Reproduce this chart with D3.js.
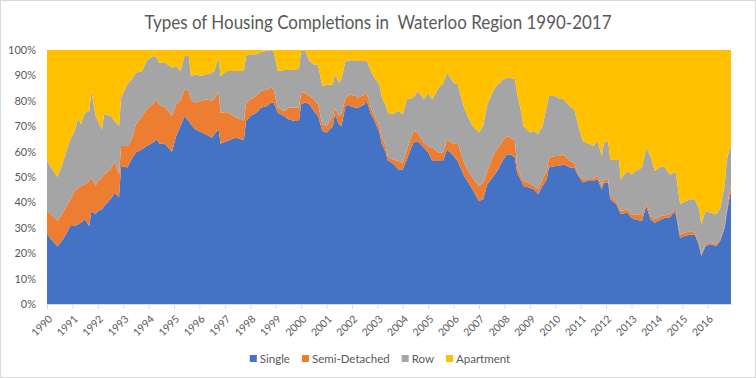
<!DOCTYPE html>
<html>
<head>
<meta charset="utf-8">
<script src="https://cdn.jsdelivr.net/npm/d3@7"></script>
<style>
  body { margin: 0; background: #fff; }
  svg { font-family: Lato, "Open Sans", sans-serif; }
</style>
</head>
<body>
<div id="chart-area"></div>
<script>
/*
*    Types of housing completions, Waterloo Region (100% stacked area)
*/

// month of each reading
var months = ["1990-01","1990-03","1990-06","1990-08","1990-10","1990-12","1991-02","1991-04","1991-05","1991-07",
"1991-09","1991-10","1991-12","1992-01","1992-03","1992-04","1992-07","1992-09","1992-11","1992-12",
"1993-03","1993-05","1993-07","1993-10","1993-12","1994-03","1994-05","1994-06","1994-09","1994-12",
"1995-02","1995-04","1995-06","1995-08","1995-09","1995-11","1996-02","1996-04","1996-07","1996-08",
"1996-10","1996-11","1997-02","1997-04","1997-06","1997-09","1997-10","1997-11","1998-01","1998-04",
"1998-06","1998-09","1998-11","1998-12","1999-02","1999-05","1999-07","1999-10","1999-12","2000-01",
"2000-03","2000-05","2000-07","2000-09","2000-11","2001-01","2001-04","2001-05","2001-07","2001-08",
"2001-10","2001-12","2002-03","2002-04","2002-07","2002-08","2002-10","2002-11","2003-02","2003-03",
"2003-05","2003-06","2003-08","2003-11","2004-01","2004-03","2004-06","2004-08","2004-11","2005-01",
"2005-03","2005-06","2005-08","2005-10","2006-01","2006-03","2006-06","2006-08","2006-10","2007-01",
"2007-03","2007-05","2007-08","2007-10","2007-12","2008-02","2008-04","2008-06","2008-07","2008-09",
"2008-10","2009-01","2009-03","2009-05","2009-07","2009-09","2009-10","2010-01","2010-03","2010-05",
"2010-08","2010-10","2010-12","2011-02","2011-04","2011-07","2011-09","2011-11","2011-12","2012-02",
"2012-03","2012-06","2012-07","2012-08","2012-11","2013-01","2013-03","2013-06","2013-08","2013-10",
"2013-12","2014-03","2014-05","2014-07","2014-09","2014-10","2014-12","2015-02","2015-05","2015-07",
"2015-09","2015-10","2015-12","2016-02","2016-05","2016-07","2016-09","2016-10","2016-11","2016-12"];

// share of completions (%)
var single = [27.8,25.5,22.6,24.8,27.4,30.7,30.7,31.4,32.0,33.3,
30.7,36.6,35.3,36.6,37.3,38.6,41.2,43.8,41.9,54.3,
53.7,57.0,59.6,60.9,62.2,63.5,64.8,63.2,62.9,59.8,
66.1,70.0,74.0,72.0,70.7,68.8,67.5,66.8,65.5,66.8,
68.8,63.1,64.2,64.8,65.5,64.8,64.8,72.0,74.0,75.3,
77.3,78.0,79.3,79.3,75.3,74.0,72.7,72.0,72.0,78.6,
79.3,78.6,76.0,74.0,68.1,67.5,70.0,74.7,70.7,70.0,
78.0,78.0,77.3,77.3,78.6,80.0,74.7,73.4,67.5,63.5,
59.6,56.5,55.6,53.0,53.0,57.0,63.5,64.2,61.5,59.6,
56.3,56.3,56.3,60.9,58.3,56.3,50.4,47.8,45.1,40.6,
41.2,47.1,50.4,53.0,56.0,58.9,58.9,57.6,51.7,48.4,
46.5,45.8,45.1,43.2,46.5,49.1,53.7,54.3,54.3,55.0,
53.7,53.7,50.4,47.8,48.4,48.4,49.1,45.1,47.8,47.8,
41.2,39.2,37.0,35.3,36.0,34.0,33.3,32.7,38.6,33.3,
32.0,33.3,34.0,34.0,36.0,35.3,26.1,26.8,27.4,27.4,
22.8,18.9,22.8,23.5,22.8,25.0,30.0,35.8,40.5,44.5];

var semiDetached = [8.8,9.8,10.1,10.5,10.5,10.5,13.8,14.4,14.5,13.8,
17.7,13.1,11.2,11.8,12.4,12.4,11.8,12.5,9.1,7.9,
8.5,7.8,11.1,13.1,14.4,15.1,15.8,15.2,14.4,14.2,
12.5,10.0,10.5,11.9,9.9,10.5,12.5,13.8,14.5,13.8,
15.1,12.2,11.4,9.9,7.9,7.9,7.2,7.0,6.6,6.6,
6.6,6.5,5.9,5.2,2.0,2.0,4.6,5.3,5.3,4.6,
3.9,3.3,4.6,4.6,2.6,2.5,4.0,2.6,3.3,4.7,
3.2,4.5,4.6,3.9,3.9,3.2,2.6,1.9,2.5,2.6,
2.6,1.7,1.4,3.3,2.6,3.9,4.6,3.3,2.0,2.6,
5.2,3.3,3.3,3.9,4.6,7.2,5.2,4.6,4.6,5.9,
6.6,5.3,8.5,8.5,8.0,7.2,6.6,6.6,2.6,1.3,
1.9,1.7,1.4,1.9,2.6,3.3,3.9,4.0,4.0,3.9,
2.6,1.9,0.6,1.3,0.7,0.9,1.3,1.4,1.3,1.3,
1.3,1.0,1.2,1.3,1.3,1.3,2.0,2.2,1.3,1.3,
1.3,1.3,0.9,1.3,0.6,1.3,1.3,1.3,1.3,0.7,
1.3,0.7,0.7,0.6,0.7,0.7,1.0,1.2,2.0,2.0];

var row = [20.0,18.4,17.3,19.0,21.7,23.6,23.6,27.6,24.2,28.2,
27.6,34.2,27.5,23.6,19.1,23.7,21.0,15.7,19.0,19.0,
24.3,23.7,20.3,17.7,19.1,19.0,16.4,16.6,17.6,19.0,
15.1,11.7,13.1,13.7,9.2,11.1,9.8,9.8,11.0,11.1,
13.1,14.5,16.1,17.0,18.3,19.0,19.7,18.6,17.7,16.4,
15.3,15.1,14.8,15.1,14.4,16.1,14.8,14.8,15.4,16.4,
16.4,13.8,13.8,15.4,15.1,16.2,12.5,13.1,13.1,13.8,
14.5,13.5,14.1,14.5,13.2,12.8,14.4,14.5,16.5,15.8,
15.8,17.1,17.7,19.7,19.1,19.7,13.1,16.4,17.1,21.0,
19.1,25.6,26.9,26.2,24.2,23.0,21.7,21.0,20.4,21.0,
22.3,26.2,25.6,25.0,24.0,23.0,23.6,24.3,28.9,25.6,
21.7,20.0,21.6,21.7,21.0,25.5,24.3,23.6,22.5,21.7,
21.6,21.0,19.1,15.1,14.4,12.9,13.8,11.8,14.4,15.1,
14.5,16.4,19.3,12.5,15.1,15.7,17.1,18.8,21.6,23.7,
19.1,19.7,18.8,15.7,15.1,15.1,11.8,12.3,12.5,13.1,
13.2,11.8,13.1,11.9,11.8,12.1,16.0,19.7,17.5,15.5];

var apartment = [43.4,46.3,50.0,45.7,40.4,35.2,31.9,26.6,29.3,24.7,
24.0,16.1,26.0,28.0,31.2,25.3,26.0,28.0,30.0,18.8,
13.5,11.5,9.0,8.3,4.3,2.4,3.0,5.0,5.1,7.0,
6.3,8.3,2.4,2.4,10.2,9.6,10.2,9.6,9.0,8.3,
3.0,10.2,8.3,8.3,8.3,8.3,8.3,2.4,1.7,1.7,
0.8,0.4,0.0,0.4,8.3,7.9,7.9,7.9,7.3,0.4,
0.4,4.3,5.6,6.0,14.2,13.8,13.5,9.6,12.9,11.5,
4.3,4.0,4.0,4.3,4.3,4.0,8.3,10.2,13.5,18.1,
22.0,24.7,25.3,24.0,25.3,19.4,18.8,16.1,19.4,16.8,
19.4,14.8,13.5,9.0,12.9,13.5,22.7,26.6,29.9,32.5,
29.9,21.4,15.5,13.5,12.0,10.9,10.9,11.5,16.8,24.7,
29.9,32.5,31.9,33.2,29.9,22.1,18.1,18.1,19.2,19.4,
22.1,23.4,29.9,35.8,36.5,37.8,35.8,41.7,36.5,35.8,
43.0,43.4,42.5,50.9,47.6,49.0,47.6,46.3,38.5,41.7,
47.6,45.7,46.3,49.0,48.3,48.3,60.8,59.6,58.8,58.8,
62.7,68.6,63.4,64.0,64.7,62.2,53.0,43.3,40.0,38.0];

var seriesNames = ["Single", "Semi-Detached", "Row", "Apartment"];
var seriesColours = ["#4472C4", "#ED7D31", "#A5A5A5", "#FFC000"];

var parseMonth = d3.timeParse("%Y-%m");
var data = months.map(function(m, i) {
    return {
        date: parseMonth(m),
        "Single": single[i],
        "Semi-Detached": semiDetached[i],
        "Row": row[i],
        "Apartment": apartment[i]
    };
});

var W = 756, H = 378;
var margin = { left: 47, right: 25, top: 50, bottom: 74 };
var width = W - margin.left - margin.right,
    height = H - margin.top - margin.bottom;
var textColour = "#595959";

var svg = d3.select("#chart-area")
    .append("svg")
    .attr("width", W)
    .attr("height", H);

// chart border
svg.append("rect")
    .attr("x", 0.5).attr("y", 0.5)
    .attr("width", W - 1).attr("height", H - 1)
    .attr("fill", "#fff")
    .attr("stroke", "#d9d9d9");

// title
svg.append("text")
    .attr("x", W / 2)
    .attr("y", 29)
    .attr("text-anchor", "middle")
    .attr("font-size", 18.5)
    .attr("fill", textColour)
    .attr("textLength", 467)
    .attr("lengthAdjust", "spacingAndGlyphs")
    .attr("xml:space", "preserve")
    .text("Types of Housing Completions in  Waterloo Region 1990-2017");

var g = svg.append("g")
    .attr("transform", "translate(" + margin.left + ", " + margin.top + ")");

var x = d3.scaleTime()
    .domain(d3.extent(data, d => d.date))
    .range([0, width]);

var y = d3.scaleLinear()
    .domain([0, 1])
    .range([height, 0]);

var stack = d3.stack()
    .keys(seriesNames)
    .offset(d3.stackOffsetExpand);

var area = d3.area()
    .x(d => x(d.data.date))
    .y0(d => y(d[0]))
    .y1(d => y(d[1]));

g.selectAll("path.layer")
    .data(stack(data))
    .enter()
    .append("path")
    .attr("class", "layer")
    .attr("fill", (d, i) => seriesColours[i])
    .attr("d", area);

// Y Axis
var yAxis = d3.axisLeft(y)
    .ticks(10)
    .tickFormat(d3.format(".0%"))
    .tickSize(0)
    .tickPadding(11);
var yG = g.append("g").call(yAxis);
yG.select(".domain").remove();
yG.selectAll("text")
    .attr("font-size", 11)
    .attr("font-family", "Lato, sans-serif")
    .attr("fill", textColour);

// X Axis
var xAxis = d3.axisBottom(x)
    .ticks(d3.timeYear.every(1))
    .tickFormat(d3.timeFormat("%Y"))
    .tickSize(5)
    .tickSizeOuter(0);
var xG = g.append("g")
    .attr("transform", "translate(0," + height + ")")
    .call(xAxis);
xG.select(".domain").attr("stroke", "#d9d9d9");
xG.selectAll(".tick line").attr("stroke", "#d9d9d9");
xG.selectAll("text")
    .attr("x", 0)
    .attr("y", 0)
    .attr("dy", "0.35em")
    .attr("text-anchor", "end")
    .attr("transform", "translate(3,13) rotate(-45)")
    .attr("font-size", 10.5)
    .attr("font-family", "Lato, sans-serif")
    .attr("fill", textColour);

// Legend along the bottom
var legend = svg.append("g");
var offset = 0;
seriesNames.forEach(function(name, i) {
    var item = legend.append("g")
        .attr("transform", "translate(" + offset + ",0)");
    item.append("rect")
        .attr("y", -4)
        .attr("width", 7)
        .attr("height", 7)
        .attr("fill", seriesColours[i]);
    var label = item.append("text")
        .attr("x", 10)
        .attr("dy", "0.35em")
        .attr("font-size", 11.5)
        .attr("fill", textColour)
        .text(name);
    offset += 10 + label.node().getComputedTextLength() + 12;
});
var legendWidth = offset - 12;
legend.attr("transform", "translate(" + (380 - legendWidth / 2) + ",359)");
</script>
</body>
</html>
